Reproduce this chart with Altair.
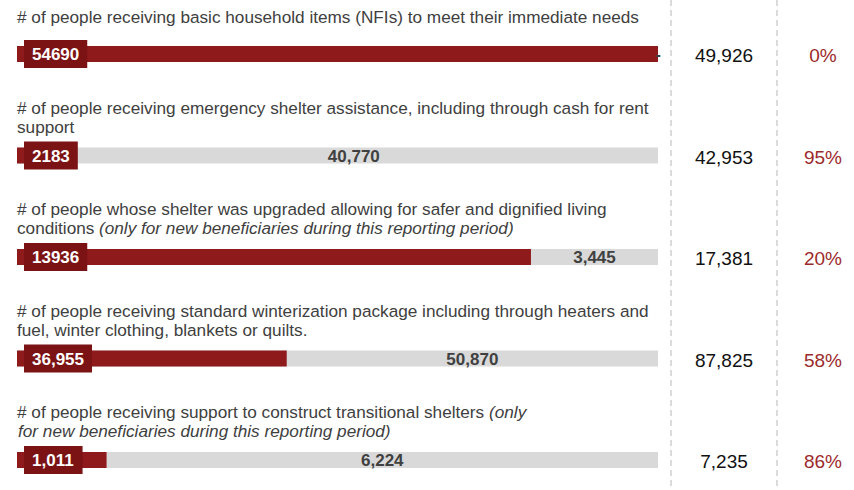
import altair as alt
import pandas as pd

# ---- data ----
titles = [
    ["# of people receiving basic household items (NFIs) to meet their immediate needs"],
    ["# of people receiving emergency shelter assistance, including through cash for rent", "support"],
    ["# of people whose shelter was upgraded allowing for safer and dignified living", "conditions"],
    ["# of people receiving standard winterization package  including through heaters and",
     "fuel, winter clothing, blankets or quilts."],
    ["# of people receiving support to construct transitional shelters", ""],
]
italic_row3_line2 = ["", "(only for new beneficiaries during this reporting period)"]
italic_row5_line1 = ["(only", ""]
italic_row5_line2 = ["", "for new beneficiaries during this reporting period)"]

achieved = [54690, 2183, 13936, 36955, 1011]
achieved_labels = ["54690", "2183", "13936", "36,955", "1,011"]
gaps = [0, 40770, 3445, 50870, 6224]
gap_labels = ["-", "40,770", "3,445", "50,870", "6,224"]
targets = [49926, 42953, 17381, 87825, 7235]
target_labels = ["49,926", "42,953", "17,381", "87,825", "7,235"]
pct_labels = ["0%", "95%", "20%", "58%", "86%"]

rows = list(range(len(achieved)))

df = pd.DataFrame({
    "row": rows,
    "title": titles,
    "nlines": [len(t) for t in titles],
    "achieved": achieved,
    "alabel": achieved_labels,
    "gap": gaps,
    "glabel": gap_labels,
    "target": targets,
    "tlabel": target_labels,
    "pct": pct_labels,
})

it_df = pd.DataFrame({
    "row": [2, 4, 4],
    "seg": ["r3l2", "r5l1", "r5l2"],
    "txt": [italic_row3_line2, italic_row5_line1, italic_row5_line2],
})

FONT = "Liberation Sans"
RED = "#8e1a1c"
BOX = "#7b1214"
GREY = "#d9d9d9"
TXT = "#404040"
PCT = "#9c2a2b"
TFS = 17.2        # title font size
DY2 = -46.6       # two-line title block offset
DY1 = -36.4       # single-line title offset

BAR_PX = 641.0
xs = alt.Scale(domain=[0, 1], range=[17, 658])
ys = alt.Scale(domain=[0, 4], range=[54, 460])

X = lambda f: alt.X(f, type="quantitative", scale=xs, axis=None)
X2 = lambda f: alt.X2(f)
Y = alt.Y("row:Q", scale=ys, axis=None)

base = alt.Chart(df).transform_calculate(
    frac="min(datum.achieved / datum.target, 1)",
    zero="0",
    one="1",
    gapmid="(min(datum.achieved / datum.target, 1) + 1) / 2",
    ncomma="length(datum.alabel) - length(replace(datum.alabel, regexp(',', 'g'), ''))",
).transform_calculate(
    boxw="(length(datum.alabel) - datum.ncomma) * 9.45 + datum.ncomma * 4.75 + 16",
).transform_calculate(
    box_x=f"7 / {BAR_PX}",
    box_x2=f"(7 + datum.boxw) / {BAR_PX}",
)

grey_bar = base.mark_rule(strokeWidth=16, strokeCap="butt", color=GREY).encode(
    x=X("zero"), x2=X2("one"), y=Y)
red_bar = base.mark_rule(strokeWidth=16, strokeCap="butt", color=RED).encode(
    x=X("zero"), x2=X2("frac"), y=Y)
box = base.mark_rule(strokeWidth=28, strokeCap="butt", color=BOX).encode(
    x=X("box_x"), x2=X2("box_x2"), y=Y)
box_text = base.mark_text(align="left", baseline="middle", dx=8, dy=1, font=FONT,
                          fontSize=17, fontWeight="bold", color="white").encode(
    x=X("box_x"), y=Y, text="alabel:N")
gap_text = base.mark_text(align="center", baseline="middle", dy=1, font=FONT,
                          fontSize=17, fontWeight="bold", color=TXT).encode(
    x=X("gapmid"), y=Y, text="glabel:N")

title1 = base.transform_filter(alt.datum.nlines == 1).mark_text(
    align="left", baseline="middle", dy=DY1, lineHeight=19,
    font=FONT, fontSize=TFS, color=TXT).encode(x=X("zero"), y=Y, text="title")
title2 = base.transform_filter(alt.datum.nlines == 2).mark_text(
    align="left", baseline="middle", dy=DY2, lineHeight=19,
    font=FONT, fontSize=TFS, color=TXT).encode(x=X("zero"), y=Y, text="title")

it_base = alt.Chart(it_df).transform_calculate(zero="0")


def italic_layer(seg, dx):
    return it_base.transform_filter(alt.datum.seg == seg).mark_text(
        align="left", baseline="middle", dx=dx, dy=DY2, lineHeight=19,
        font=FONT, fontSize=TFS, fontStyle="italic", color=TXT).encode(
        x=X("zero"), y=Y, text="txt")


it1 = italic_layer("r3l2", 82)
it2 = italic_layer("r5l1", 472)
it3 = italic_layer("r5l2", 1)

target_text = base.mark_text(align="center", baseline="middle", dy=2, font=FONT,
                             fontSize=19, color="#111111").encode(
    x=alt.value(724), y=Y, text="tlabel:N")
pct_text = base.mark_text(align="center", baseline="middle", dy=2, font=FONT,
                          fontSize=19, color=PCT).encode(
    x=alt.value(823), y=Y, text="pct:N")

sep = alt.Chart(pd.DataFrame({"k": [0]}))
sep1 = sep.mark_rule(color="#c4c4c4", strokeWidth=1.2, strokeDash=[6, 4]).encode(
    x=alt.value(671), y=alt.value(0), y2=alt.value(490))
sep2 = sep.mark_rule(color="#c4c4c4", strokeWidth=1.2, strokeDash=[6, 4]).encode(
    x=alt.value(777), y=alt.value(0), y2=alt.value(490))

chart = alt.layer(
    sep1, sep2, grey_bar, red_bar, box, box_text, gap_text, title1, title2,
    it1, it2, it3, target_text, pct_text,
).properties(
    width=854, height=490, padding=0, autosize=alt.AutoSizeParams(type="none"),
    background="white",
).configure_view(stroke=None)

chart.save("out.html", embed_options={"renderer": "svg", "actions": False})
